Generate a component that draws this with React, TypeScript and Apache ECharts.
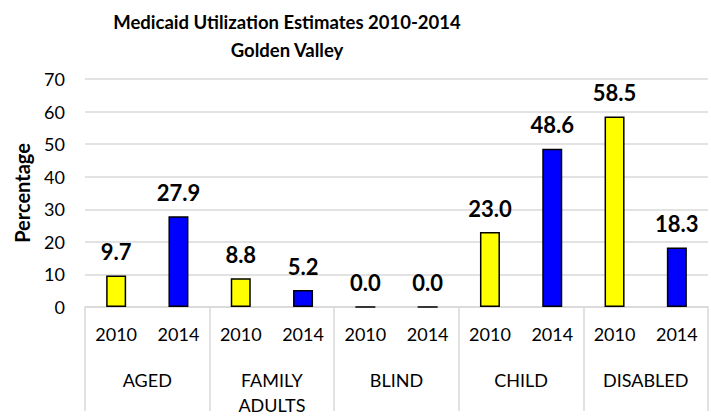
import React, { useEffect, useRef } from "react";
import * as echarts from "echarts";

const years = ["2010", "2014", "2010", "2014", "2010", "2014", "2010", "2014", "2010", "2014"];
const groups = ["AGED", "FAMILY\nADULTS", "BLIND", "CHILD", "DISABLED"];
const values = [9.7, 27.9, 8.8, 5.2, 0.0, 0.0, 23.0, 48.6, 58.5, 18.3];
const yearColors: Record<string, string> = { "2010": "#FFFF00", "2014": "#0000FF" };
const yTicks = [0, 10, 20, 30, 40, 50, 60, 70];

const FONT = "Lato";

export default function App() {
  const ref = useRef<HTMLDivElement>(null);
  useEffect(() => {
    if (!ref.current) return;
    const chart = echarts.init(ref.current, undefined, { renderer: "svg" });
    chart.setOption({
      animation: false,
      textStyle: { fontFamily: FONT },
      title: {
        text: "Medicaid Utilization Estimates 2010-2014\nGolden Valley",
        left: 282,
        top: 3,
        textAlign: "center",
        textStyle: { fontFamily: FONT, fontSize: 18.5, fontWeight: "bold", color: "#000", lineHeight: 28 },
      },
      grid: { left: 85, right: 3, top: 79, bottom: 104, containLabel: false },
      xAxis: [
        {
          type: "category",
          data: years,
          axisLine: { lineStyle: { color: "#d9d9d9", width: 1.5 } },
          axisTick: { show: false },
          axisLabel: { color: "#000", fontSize: 18, fontFamily: FONT, margin: 18 },
        },
        {
          type: "category",
          data: groups,
          position: "bottom",
          axisLine: { show: false },
          axisTick: { show: true, length: 104, lineStyle: { color: "#d9d9d9", width: 1.5 } },
          axisLabel: { color: "#000", fontSize: 18, fontFamily: FONT, margin: 60, lineHeight: 25 },
        },
      ],
      yAxis: {
        type: "value",
        min: yTicks[0],
        max: yTicks[yTicks.length - 1],
        interval: 10,
        name: "Percentage",
        nameLocation: "middle",
        nameGap: 53,
        nameTextStyle: { fontFamily: FONT, fontSize: 20, fontWeight: "bold", color: "#000" },
        axisLine: { show: false },
        axisTick: { show: false },
        axisLabel: { color: "#000", fontSize: 18, fontFamily: FONT, margin: 20 },
        splitLine: { lineStyle: { color: "#d9d9d9", width: 1.5 } },
      },
      series: [
        {
          type: "bar",
          barWidth: 20,
          data: values.map((v, i) => ({
            value: v,
            itemStyle: { color: yearColors[years[i]], borderColor: "#000", borderWidth: 1.5 },
          })),
          label: {
            show: true,
            position: "top",
            distance: 13,
            formatter: (p: any) => Number(p.value).toFixed(1),
            fontFamily: FONT,
            fontSize: 22,
            fontWeight: "bold",
            color: "#000",
          },
        },
      ],
    });
    return () => chart.dispose();
  }, []);
  return <div ref={ref} style={{ width: 711, height: 417, position: "absolute", left: 0, top: 0 }} />;
}
